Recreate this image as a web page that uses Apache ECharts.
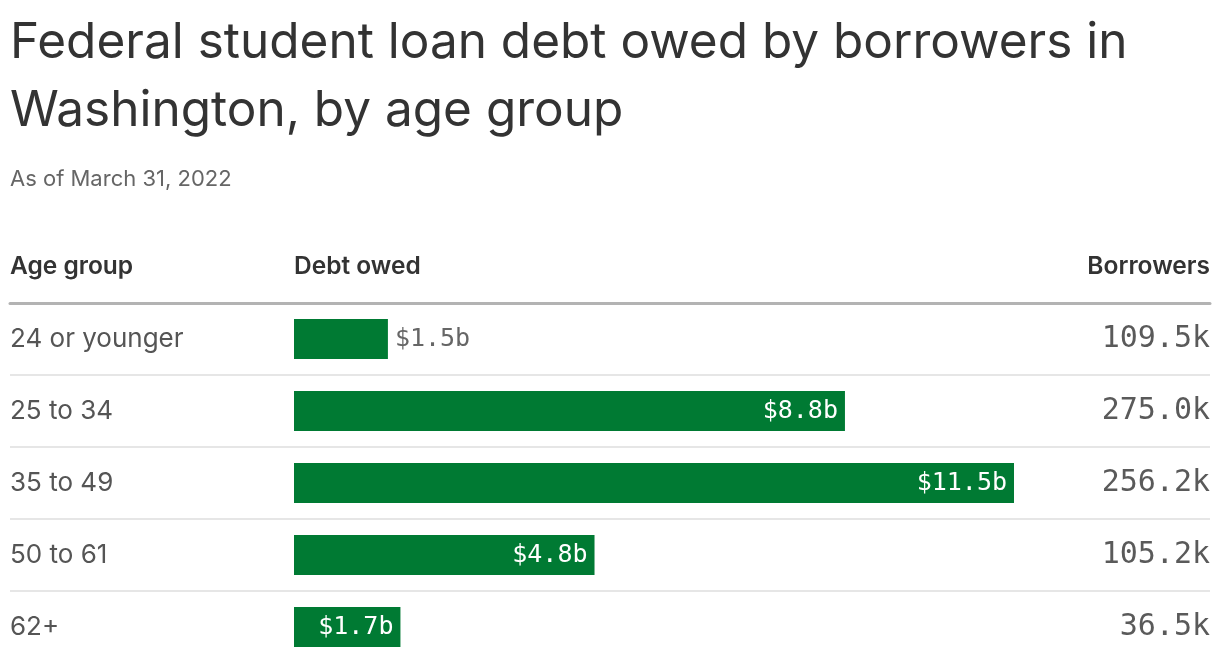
<!DOCTYPE html>
<html>
<head>
<meta charset="utf-8">
<script src="https://cdn.jsdelivr.net/npm/echarts@6/dist/echarts.min.js"></script>
<style>
  html, body { margin: 0; padding: 0; background: #fff; }
  #chart { width: 1220px; height: 672px; }
</style>
</head>
<body>
<div id="chart"></div>
<script>
// data
var ageGroups = ['24 or younger', '25 to 34', '35 to 49', '50 to 61', '62+'];
var debtOwed = [1.5, 8.8, 11.5, 4.8, 1.7];          // $ billions
var borrowers = [109.5, 275.0, 256.2, 105.2, 36.5]; // thousands
var columnHeaders = ['Age group', 'Debt owed', 'Borrowers'];

var chart = echarts.init(document.getElementById('chart'));

var green = '#007a33';
var sans = 'Inter, "Noto Sans", sans-serif';
var mono = '"DejaVu Sans Mono", monospace';

var headerStyle = { fontFamily: sans, fontSize: 24.5, fontWeight: 600, color: '#333' };

var option = {
    animation: false,
    title: [
        {
            text: 'Federal student loan debt owed by borrowers in\nWashington, by age group',
            left: 10, top: 9, padding: 0,
            textStyle: { fontFamily: sans, fontSize: 49.5, fontWeight: 400, color: '#333', lineHeight: 68 }
        },
        {
            text: 'As of March 31, 2022',
            left: 10, top: 168, padding: 0,
            textStyle: { fontFamily: sans, fontSize: 22, fontWeight: 400, color: '#666' }
        },
        { text: columnHeaders[0], left: 10, top: 254, padding: 0, textStyle: headerStyle },
        { text: columnHeaders[1], left: 294, top: 254, padding: 0, textStyle: headerStyle },
        { text: columnHeaders[2], right: 10, top: 254, padding: 0, textStyle: headerStyle }
    ],
    grid: [
        // full-width table rows
        { left: 10, right: 10, top: 303, bottom: 9 },
        // bar column
        { left: 294, right: 206, top: 303, bottom: 9 }
    ],
    xAxis: [
        {
            gridIndex: 0, type: 'value', position: 'top', min: 0, max: 1,
            axisLine: { show: true, lineStyle: { color: '#b3b3b3', width: 3 } },
            axisTick: { show: false }, axisLabel: { show: false }, splitLine: { show: false }
        },
        { gridIndex: 1, type: 'value', min: 0, max: 11.5, show: false }
    ],
    yAxis: [
        {
            gridIndex: 0, type: 'category', inverse: true, data: ageGroups,
            axisLine: { show: false }, axisTick: { show: false },
            splitLine: { show: true, showMaxLine: false, lineStyle: { color: '#e6e6e6', width: 2 } },
            axisLabel: { inside: true, align: 'left', margin: 0, fontFamily: sans, fontSize: 26, color: '#555' }
        },
        {
            gridIndex: 0, type: 'category', inverse: true, position: 'right',
            data: borrowers.map(function (v) { return v.toFixed(1) + 'k'; }),
            axisLine: { show: false }, axisTick: { show: false }, splitLine: { show: false },
            axisLabel: { inside: true, align: 'right', margin: 0, fontFamily: mono, fontSize: 30, color: '#5a5a5a' }
        },
        { gridIndex: 1, type: 'category', inverse: true, data: ageGroups, show: false }
    ],
    series: [{
        type: 'bar',
        xAxisIndex: 1,
        yAxisIndex: 2,
        barWidth: 40,
        itemStyle: { color: green },
        label: {
            show: true,
            fontFamily: mono,
            fontSize: 25,
            distance: 7,
            formatter: function (p) { return '$' + p.value.toFixed(1) + 'b'; }
        },
        // the smallest bar is too short for its label, so it sits outside
        data: debtOwed.map(function (v) {
            return v >= 1.6
                ? { value: v, label: { position: 'insideRight', color: '#fff' } }
                : { value: v, label: { position: 'right', color: '#666' } };
        })
    }]
};

chart.setOption(option);
</script>
</body>
</html>
